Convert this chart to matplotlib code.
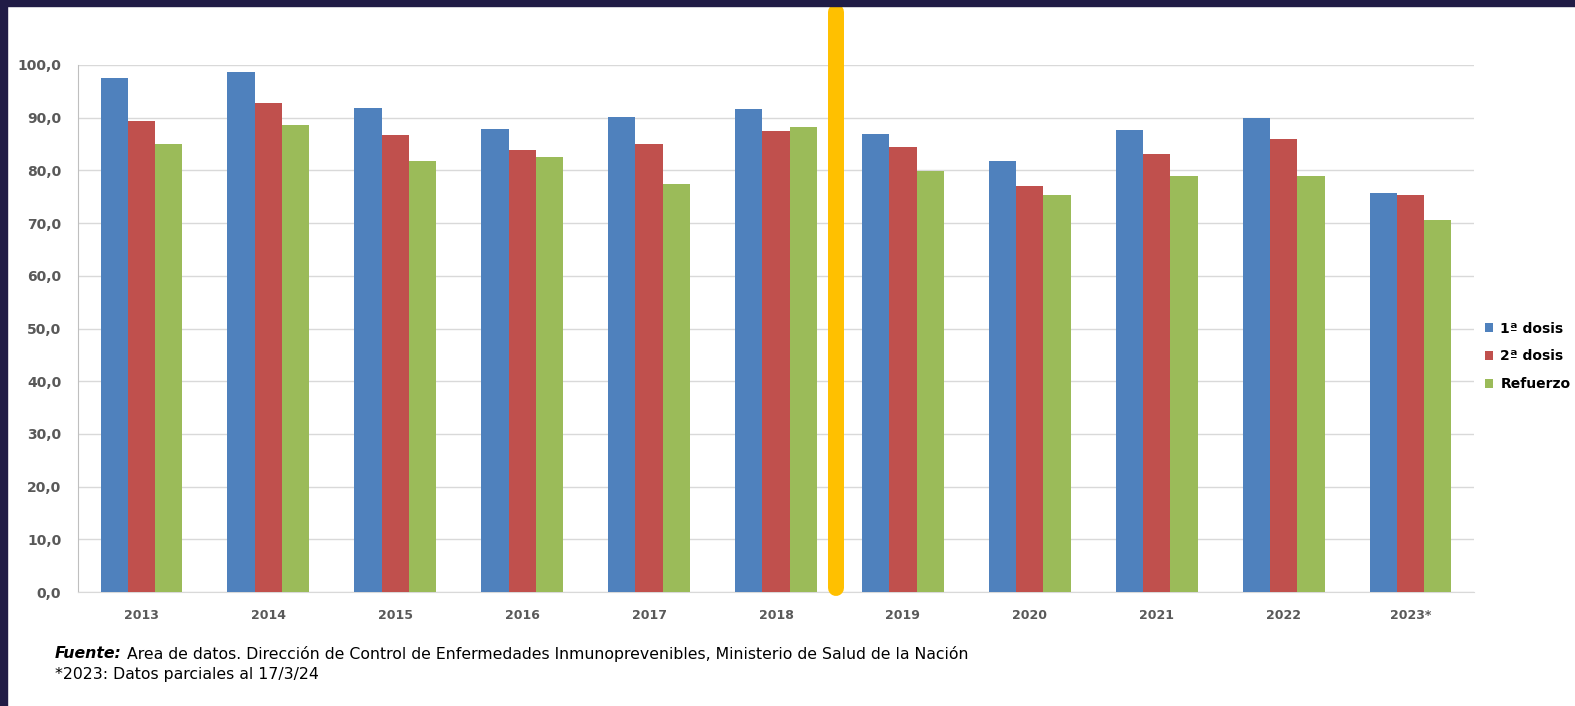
import numpy as np
import matplotlib.pyplot as plt
from matplotlib.patches import Rectangle

# Datos de cobertura (%) por año
years = ["2013", "2014", "2015", "2016", "2017", "2018",
         "2019", "2020", "2021", "2022", "2023*"]
dosis_1 = [97.5, 98.6, 91.8, 87.8, 90.1, 91.6, 86.9, 81.7, 87.7, 89.9, 75.7]
dosis_2 = [89.3, 92.7, 86.7, 83.9, 85.1, 87.5, 84.4, 77.1, 83.1, 86.0, 75.3]
refuerzo = [85.1, 88.6, 81.7, 82.5, 77.5, 88.3, 79.9, 75.3, 78.9, 78.9, 70.5]
series_names = ["1ª dosis", "2ª dosis", "Refuerzo"]
colors = ["#4F81BD", "#C0504D", "#9BBB59"]
yticks = np.arange(0, 101, 10)

tick_color = "#595959"
narrow = ["Liberation Sans Narrow", "DejaVu Sans"]

fig = plt.figure(figsize=(15.75, 7.06), dpi=100)
fig.patch.set_facecolor("white")

# Marco oscuro arriba y a la izquierda
fig.patches.append(Rectangle((0, 1 - 6 / 706), 1, 6 / 706, transform=fig.transFigure,
                             color="#211C46", zorder=10))
fig.patches.append(Rectangle((0, 0), 7 / 1575, 1, transform=fig.transFigure,
                             color="#211C46", zorder=10))

ax = fig.add_axes([78 / 1575, 114 / 706, 1396 / 1575, 527 / 706])

x = np.arange(len(years))
w = 0.215
for i, (vals, name, c) in enumerate(zip([dosis_1, dosis_2, refuerzo], series_names, colors)):
    ax.bar(x + (i - 1) * w, vals, width=w, color=c, label=name, zorder=3)

ax.set_xlim(-0.5, len(years) - 0.5)
ax.set_ylim(0, 100)
ax.set_yticks(yticks)
ax.set_yticklabels([f"{v:.1f}".replace(".", ",") for v in yticks])
ax.set_xticks(x)
ax.set_xticklabels(years)
ax.tick_params(axis="both", length=0, labelcolor=tick_color)
ax.tick_params(axis="x", pad=12, labelsize=9)
ax.tick_params(axis="y", pad=12, labelsize=10)
for lab in ax.get_xticklabels() + ax.get_yticklabels():
    lab.set_fontweight("bold")

ax.grid(axis="y", color="#D9D9D9", linewidth=1, zorder=0)
for s in ["top", "right"]:
    ax.spines[s].set_visible(False)
ax.spines["left"].set_color("#BFBFBF")
ax.spines["bottom"].set_color("#D9D9D9")

# Línea vertical naranja entre 2018 y 2019
ax.plot([5.47, 5.47], [0.8, 110.0], color="#FFC000", linewidth=11.5,
        solid_capstyle="round", clip_on=False, zorder=5)

leg = ax.legend(loc="center left", bbox_to_anchor=(1.004, 0.447), frameon=False,
                borderaxespad=0, handlelength=0.6, handleheight=0.6, handletextpad=0.5,
                labelspacing=1.0, prop={"size": 10, "weight": "bold"})
for t in leg.get_texts():
    t.set_color("black")

# Nota al pie
t1 = fig.text(55 / 1575, 1 - 654 / 706, "Fuente:", fontsize=11.3, fontweight="bold",
              fontstyle="italic", family=narrow, va="center")
renderer = fig.canvas.get_renderer()
bb = t1.get_window_extent(renderer=renderer)
fig.text((bb.x1 + 5) / 1575, 1 - 654 / 706,
         "Area de datos. Dirección de Control de Enfermedades Inmunoprevenibles, "
         "Ministerio de Salud de la Nación",
         fontsize=11.3, family=narrow, va="center")
fig.text(55 / 1575, 1 - 674 / 706, "*2023: Datos parciales al 17/3/24",
         fontsize=11.3, family=narrow, va="center")

fig.savefig("out.png", dpi=100)
